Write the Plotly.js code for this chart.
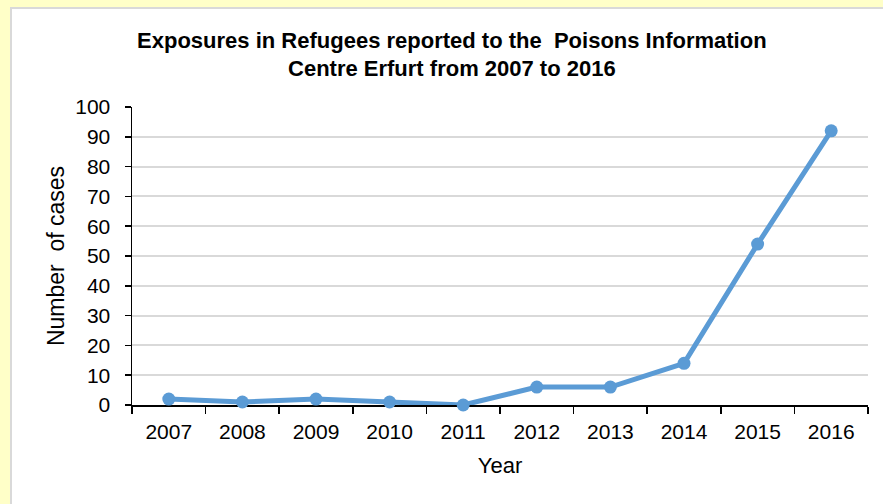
<!DOCTYPE html>
<html>
<head>
<meta charset="utf-8">
<script src="https://cdn.plot.ly/plotly-3.0.1.min.js"></script>
<style>
  html, body { margin: 0; padding: 0; background: #FFFFC8; width: 883px; height: 504px; overflow: hidden; }
  #frame { position: absolute; left: 10px; top: 7px; width: 871px; height: 495px;
           border-left: 2px solid #d9d9d9; border-top: 2px solid #d9d9d9; background: #ffffff; }
  #chart { width: 871px; height: 495px; }
</style>
</head>
<body>
<div id="frame"><div id="chart"></div></div>
<script>
const years = ["2007", "2008", "2009", "2010", "2011", "2012", "2013", "2014", "2015", "2016"];
const cases = [2, 1, 2, 1, 0, 6, 6, 14, 54, 92];
const yTicks = [0, 10, 20, 30, 40, 50, 60, 70, 80, 90, 100];

const FONT = "Liberation Sans, Arial, sans-serif";

const trace = {
  type: "scatter",
  mode: "lines+markers",
  x: years,
  y: cases,
  line: { color: "#5b9bd5", width: 5 },
  marker: { color: "#5b9bd5", size: 13 },
  cliponaxis: false,
  hoverinfo: "x+y"
};

const layout = {
  width: 871,
  height: 495,
  margin: { l: 120, r: 15, t: 98, b: 99 },
  paper_bgcolor: "#ffffff",
  plot_bgcolor: "#ffffff",
  showlegend: false,
  font: { family: FONT, color: "#000000" },
  title: {
    text: "Exposures in Refugees reported to the  Poisons Information<br>Centre Erfurt from 2007 to 2016",
    font: { family: FONT, size: 22, weight: 700, color: "#000000" },
    xref: "container", x: 0.505, xanchor: "center",
    yref: "container", y: 0.922, yanchor: "middle"
  },
  xaxis: {
    type: "category",
    range: [-0.5, 9.5],
    tickson: "boundaries",
    ticks: "outside",
    ticklen: 7,
    tickwidth: 1.5,
    tickcolor: "#000000",
    ticklabelstandoff: 7,
    showline: true,
    linecolor: "#000000",
    linewidth: 1.5,
    showgrid: false,
    zeroline: false,
    tickfont: { family: FONT, size: 21, color: "#000000" },
    title: { text: "Year", font: { family: FONT, size: 22, color: "#000000" }, standoff: 16 },
    layer: "below traces",
    fixedrange: true
  },
  yaxis: {
    range: [0, 100],
    tickmode: "array",
    tickvals: yTicks,
    ticktext: yTicks.map(String),
    ticks: "outside",
    ticklen: 6,
    tickwidth: 1.5,
    tickcolor: "#000000",
    ticklabelstandoff: 10,
    showline: true,
    linecolor: "#000000",
    linewidth: 1.5,
    showgrid: true,
    gridcolor: "#d9d9d9",
    gridwidth: 2,
    zeroline: false,
    tickfont: { family: FONT, size: 21, color: "#000000" },
    title: { text: "Number  of cases", font: { family: FONT, size: 23, color: "#000000" }, standoff: 4 },
    layer: "below traces",
    fixedrange: true
  }
};

Plotly.newPlot("chart", [trace], layout, { displayModeBar: false, staticPlot: true });
</script>
</body>
</html>
